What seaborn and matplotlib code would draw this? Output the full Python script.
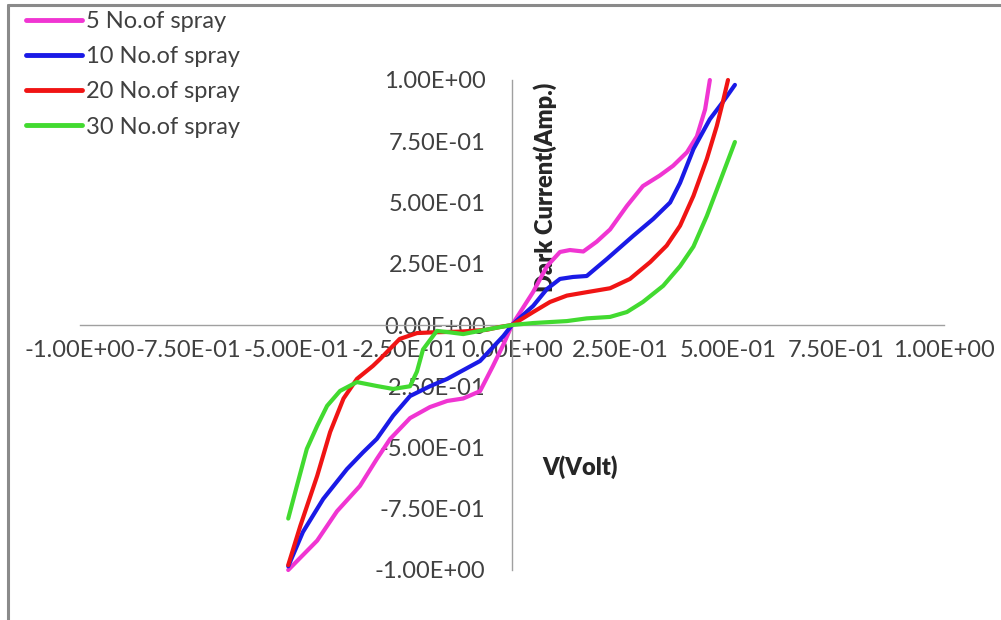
import matplotlib
matplotlib.use("Agg")
import matplotlib.pyplot as plt
import seaborn as sns
import pandas as pd
from matplotlib.lines import Line2D
from matplotlib.ticker import FormatStrFormatter

# ---------------- data ----------------
series_names = ["5 No.of spray", "10 No.of spray", "20 No.of spray", "30 No.of spray"]

x_5 = [-0.518, -0.451, -0.405, -0.352, -0.313, -0.282, -0.236, -0.19, -0.15, -0.113,
       -0.074, -0.044, -0.02, 0.0, 0.049, 0.081, 0.111, 0.134, 0.165, 0.196, 0.227,
       0.266, 0.303, 0.342, 0.373, 0.405, 0.428, 0.447, 0.458]
y_5 = [-1.0, -0.88, -0.76, -0.657, -0.547, -0.465, -0.38, -0.335, -0.31, -0.30,
       -0.27, -0.167, -0.08, 0.0, 0.135, 0.24, 0.298, 0.306, 0.30, 0.34, 0.39,
       0.486, 0.567, 0.61, 0.65, 0.705, 0.77, 0.88, 1.0]

x_10 = [-0.518, -0.484, -0.437, -0.382, -0.345, -0.313, -0.275, -0.236, -0.19, -0.15,
        -0.074, -0.02, 0.0, 0.049, 0.081, 0.111, 0.141, 0.173, 0.22, 0.28, 0.327,
        0.366, 0.389, 0.42, 0.458, 0.488, 0.516]
y_10 = [-0.985, -0.845, -0.71, -0.588, -0.52, -0.465, -0.37, -0.29, -0.25, -0.22,
        -0.147, -0.045, 0.0, 0.078, 0.147, 0.188, 0.196, 0.20, 0.27, 0.363, 0.433,
        0.50, 0.58, 0.718, 0.84, 0.91, 0.98]

x_20 = [-0.518, -0.49, -0.451, -0.421, -0.39, -0.359, -0.322, -0.306, -0.26, -0.22,
        -0.183, -0.12, -0.06, -0.028, 0.0, 0.049, 0.088, 0.127, 0.173, 0.227, 0.273,
        0.32, 0.358, 0.389, 0.42, 0.451, 0.474, 0.488, 0.50]
y_20 = [-0.98, -0.82, -0.616, -0.437, -0.30, -0.22, -0.167, -0.14, -0.057, -0.033,
        -0.03, -0.027, -0.02, -0.008, 0.0, 0.053, 0.094, 0.12, 0.134, 0.15, 0.188,
        0.257, 0.324, 0.405, 0.527, 0.678, 0.812, 0.91, 1.0]

x_30 = [-0.518, -0.498, -0.475, -0.451, -0.428, -0.398, -0.359, -0.313, -0.275, -0.236,
        -0.22, -0.206, -0.174, -0.144, -0.113, -0.051, 0.0, 0.049, 0.127, 0.173, 0.227,
        0.266, 0.303, 0.35, 0.389, 0.42, 0.451, 0.481, 0.516]
y_30 = [-0.79, -0.657, -0.506, -0.412, -0.33, -0.269, -0.233, -0.249, -0.261, -0.25,
        -0.19, -0.10, -0.024, -0.03, -0.037, -0.016, 0.0, 0.008, 0.016, 0.027, 0.033,
        0.053, 0.094, 0.16, 0.24, 0.32, 0.445, 0.584, 0.747]

x_ticks = [-1.0, -0.75, -0.5, -0.25, 0.0, 0.25, 0.5, 0.75, 1.0]
y_ticks = [-1.0, -0.75, -0.5, -0.25, 0.0, 0.25, 0.5, 0.75, 1.0]
x_label = "V(Volt)"
y_label = "Dark Current(Amp.)"

colors = ["#F035D2", "#1A1AE6", "#F01414", "#42DA30"]

# ---------------- figure ----------------
sns.set_style("white")
plt.rcParams["font.family"] = ["Lato", "DejaVu Sans"]

fig = plt.figure(figsize=(10.01, 6.2), dpi=100)
ax = fig.add_axes([80 / 1001, 50 / 620, 864 / 1001, 490 / 620])

frames = []
for name, xs, ys in zip(series_names, [x_5, x_10, x_20, x_30], [y_5, y_10, y_20, y_30]):
    frames.append(pd.DataFrame({"V": xs, "I": ys, "series": name}))
df = pd.concat(frames, ignore_index=True)

for name, col in zip(series_names, colors):
    sub = df[df["series"] == name]
    sns.lineplot(data=sub, x="V", y="I", sort=False, estimator=None, color=col,
                 linewidth=3.0, ax=ax, legend=False, clip_on=False, zorder=3)

ax.set_xlim(-1, 1)
ax.set_ylim(-1, 1)
ax.set_xticks(x_ticks)
ax.set_yticks(y_ticks)
ax.xaxis.set_major_formatter(FormatStrFormatter("%.2E"))
ax.yaxis.set_major_formatter(FormatStrFormatter("%.2E"))

for s in ["top", "right"]:
    ax.spines[s].set_visible(False)
ax.spines["left"].set_position(("data", 0))
ax.spines["bottom"].set_position(("data", 0))
for s in ["left", "bottom"]:
    ax.spines[s].set_color("#A0A0A0")
    ax.spines[s].set_linewidth(1.0)
    ax.spines[s].set_zorder(1)

ax.set_axisbelow(True)
ax.tick_params(axis="x", length=0, pad=11, labelsize=17, labelcolor="#404040")
ax.tick_params(axis="y", length=0, pad=19, labelsize=17, labelcolor="#404040")
ax.set_xlabel("")
ax.set_ylabel("")

ax.text(0.076, 0.563, y_label, rotation=90, ha="center", va="center",
        fontsize=17, fontweight="heavy", color="#262626", zorder=1)
ax.text(0.157, -0.58, x_label, ha="center", va="center",
        fontsize=17, fontweight="heavy", color="#262626")

handles = [Line2D([0], [0], color=c, lw=3.5) for c in colors]
fig.legend(handles, series_names, loc="upper left", bbox_to_anchor=(0.026, 0.982),
           frameon=False, fontsize=17, handlelength=2.35, handletextpad=0.18,
           labelspacing=0.6, borderpad=0.0, borderaxespad=0.0,
           labelcolor="#404040")

# chart-area border (top and left visible in the reference)
fig.add_artist(Line2D([8 / 1001, 1.0], [1 - 5 / 620, 1 - 5 / 620],
                      transform=fig.transFigure, color="#8A8A8A", lw=2.2))
fig.add_artist(Line2D([8 / 1001, 8 / 1001], [0.0, 1 - 5 / 620],
                      transform=fig.transFigure, color="#8A8A8A", lw=2.2))

fig.savefig("out.png", dpi=100, facecolor="white")
